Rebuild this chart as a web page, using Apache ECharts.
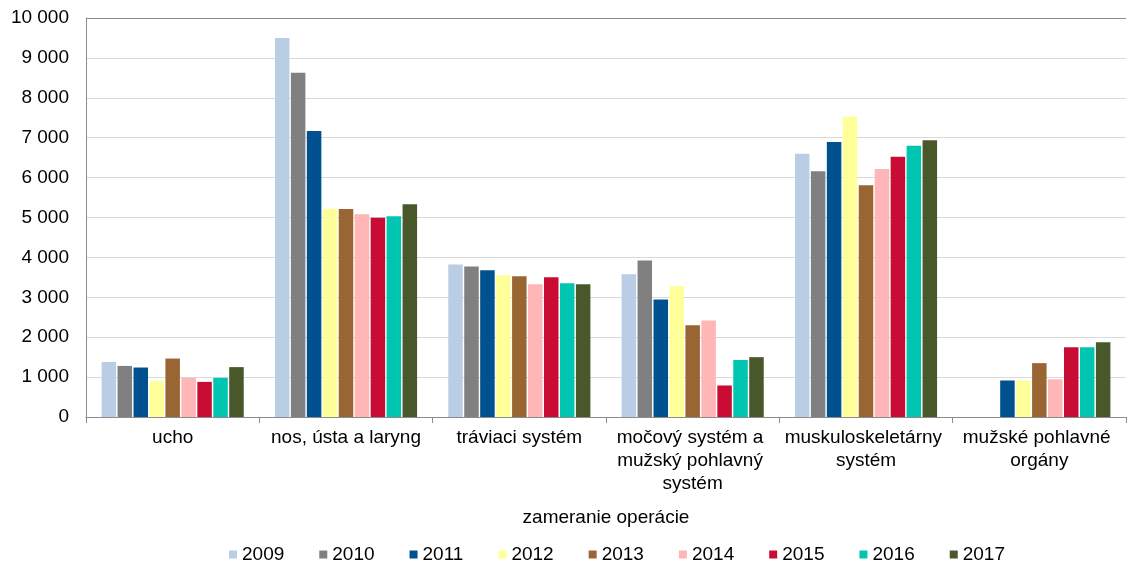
<!DOCTYPE html>
<html>
<head>
<meta charset="utf-8">
<script src="https://cdn.jsdelivr.net/npm/echarts@6/dist/echarts.min.js"></script>
<style>html,body{margin:0;padding:0;background:#fff}#c{width:1127px;height:564px}</style>
</head>
<body>
<div id="c"></div>
<script>
var categories = ['ucho', 'nos, ústa a laryng', 'tráviaci systém', 'močový systém a mužský pohlavný systém', 'muskuloskeletárny systém', 'mužské pohlavné orgány'];
var years = ['2009', '2010', '2011', '2012', '2013', '2014', '2015', '2016', '2017'];
var v2009 = [1380, 9500, 3825, 3575, 6595, null];
var v2010 = [1280, 8630, 3775, 3925, 6160, null];
var v2011 = [1240, 7170, 3675, 2945, 6895, 915];
var v2012 = [900, 5220, 3550, 3280, 7530, 910];
var v2013 = [1465, 5215, 3525, 2300, 5810, 1350];
var v2014 = [980, 5080, 3325, 2420, 6215, 945];
var v2015 = [880, 4995, 3505, 790, 6520, 1750];
var v2016 = [980, 5030, 3350, 1430, 6800, 1750];
var v2017 = [1250, 5330, 3325, 1500, 6935, 1875];
var seriesValues = [v2009, v2010, v2011, v2012, v2013, v2014, v2015, v2016, v2017];
var colors = ['#b9cde5', '#808080', '#00518f', '#ffff99', '#996633', '#ffb6b6', '#c80c34', '#00c6b1', '#48582a'];
var yTicks = [0, 1000, 2000, 3000, 4000, 5000, 6000, 7000, 8000, 9000, 10000];

var FONT = 'Liberation Sans, Arial, sans-serif';
var FS = 19;
var chart = echarts.init(document.getElementById('c'));
var series = years.map(function (y, i) {
  var s = {
    name: y,
    type: 'bar',
    data: seriesValues[i],
    barGap: '10%',
    barCategoryGap: '18%',
    itemStyle: { color: colors[i] },
    animation: false
  };
  if (i === 0) {
    s.markLine = {
      silent: true, symbol: 'none', label: { show: false },
      lineStyle: { color: '#8c8c8c', type: 'solid', width: 1 },
      data: [{ yAxis: yTicks[yTicks.length - 1] }],
      animation: false
    };
  }
  return s;
});
chart.setOption({
  animation: false,
  color: colors,
  textStyle: { fontFamily: FONT },
  grid: { left: 86, right: 1, top: 18, bottom: 147, containLabel: false, outerBoundsMode: 'none' },
  legend: {
    data: years,
    left: 224, top: 540,
    itemWidth: 8, itemHeight: 8, itemGap: 35,
    icon: 'rect',
    textStyle: { fontFamily: FONT, fontSize: FS, color: '#000' }
  },
  xAxis: {
    type: 'category',
    data: categories,
    name: 'zameranie operácie',
    nameLocation: 'middle',
    nameGap: 91,
    nameTextStyle: { fontFamily: FONT, fontSize: FS, color: '#000' },
    axisLine: { lineStyle: { color: '#8c8c8c', width: 1 } },
    axisTick: { show: true, length: 6, lineStyle: { color: '#8c8c8c' } },
    axisLabel: {
      fontFamily: FONT, fontSize: FS, color: '#000', margin: 9,
      lineHeight: 23, width: 195, overflow: 'break', interval: 0, hideOverlap: false
    }
  },
  yAxis: {
    type: 'value',
    min: 0, max: 10000, interval: 1000,
    axisLine: { show: true, lineStyle: { color: '#8c8c8c', width: 1 } },
    axisTick: { show: false },
    splitLine: { lineStyle: { color: '#d9d9d9', width: 1 } },
    axisLabel: {
      fontFamily: FONT, fontSize: FS, color: '#000', margin: 17,
      formatter: function (v) { return String(v).replace(/\B(?=(\d{3})+(?!\d))/g, ' '); }
    }
  },
  series: series
});
</script>
</body>
</html>
